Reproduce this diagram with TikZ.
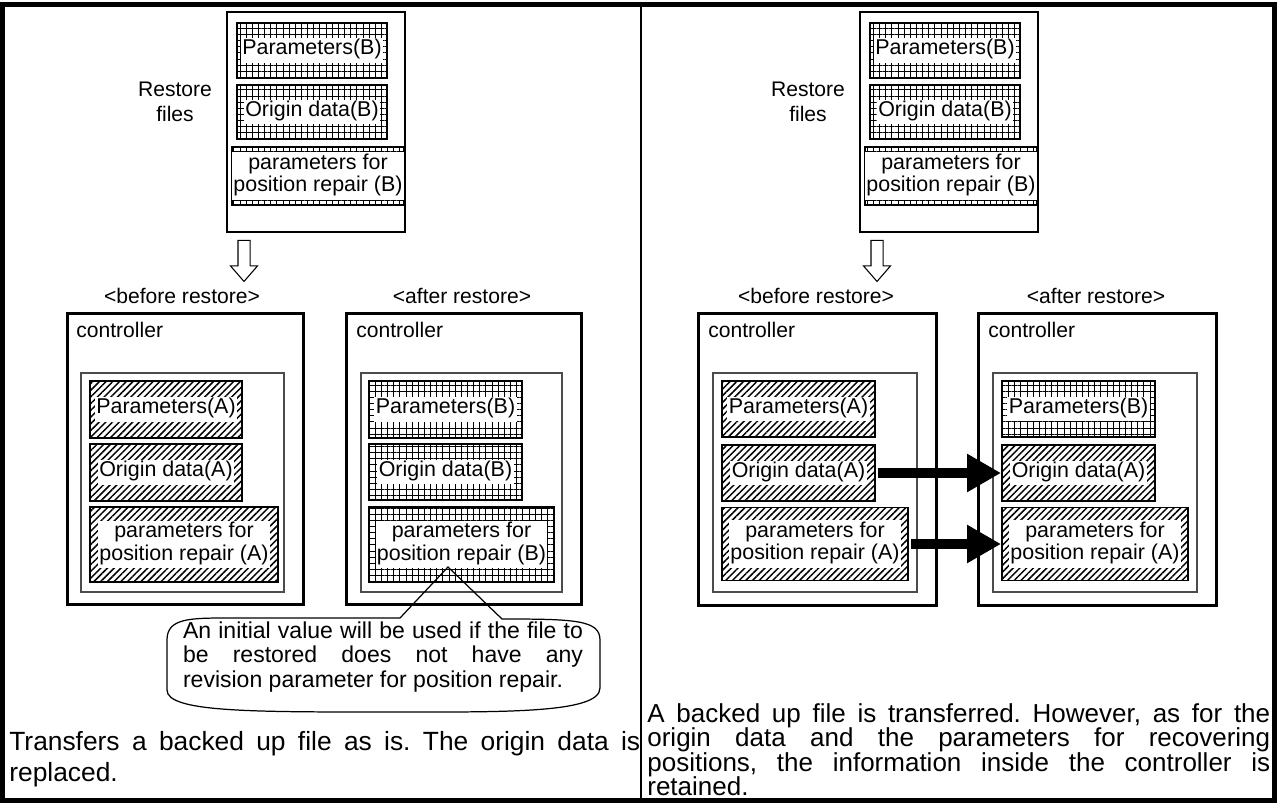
\documentclass[tikz,border=0pt]{standalone}
\usepackage{fontspec}
\setmainfont{Liberation Sans}
\usetikzlibrary{arrows.meta,positioning,patterns.meta,shapes.arrows}
\frenchspacing

% white patch behind the text of a patterned box
\newcommand{\wlab}[1]{{\setlength{\fboxsep}{0.8pt}\colorbox{white}{\begin{tabular}{@{}c@{}}#1\end{tabular}}}}

\begin{document}
\begin{tikzpicture}[
  x=0.02cm, y=-0.02cm,
  lab/.style={font=\fontsize{12}{14.2}\selectfont, align=center, inner sep=0pt},
  databox/.style={draw, line width=1.1pt, inner sep=0pt,
                  font=\fontsize{12.2}{12.6}\selectfont},
  hatchbox/.style={databox, pattern={Lines[angle=45,distance=2.7pt,line width=0.85pt]}},
  gridbox/.style={databox, pattern={Hatch[angle=0,distance=3.5pt,line width=0.35pt]}},
  ctrlbox/.style={draw, line width=1.7pt, minimum width=4.76cm, minimum height=5.86cm},
  innerbox/.style={draw=black!70, line width=0.7pt, minimum width=4.06cm, minimum height=4.38cm},
  restbox/.style={draw, line width=0.8pt, minimum width=3.56cm, minimum height=4.4cm},
  dnarrow/.style={single arrow, draw, line width=0.6pt, shape border rotate=270,
                  inner sep=0.11cm, minimum height=0.82cm,
                  single arrow head extend=0.15cm, single arrow tip angle=82},
  bigarr/.style={-{Triangle[length=0.68cm,width=0.72cm]}, line width=0.2cm, shorten <=1pt},
  note/.style={font=\fontsize{13.1}{14.2}\selectfont, align=left, inner sep=0pt},
  summary/.style={align=left, inner sep=0pt}
]
\useasboundingbox (0,0) rectangle (1277,803);

% table frame
\draw[line width=2.6pt] (2.5,4.5) rectangle (1274.5,800.5);
\draw[line width=1.1pt] (641,4.5) -- (641,800.5);

%% left half: restore replaces everything
\node[restbox] (restL) at (316,122) {};
\node[gridbox, minimum width=3.0cm, minimum height=1.1cm] (parB1) at (312,50.5) {\wlab{Parameters(B)}};
\node[gridbox, minimum width=3.0cm, minimum height=1.08cm] (orgB1) at (312,112) {\wlab{Origin data(B)}};
\node[gridbox, minimum width=3.24cm, minimum height=1.16cm] (repB1) at (318,176) {\wlab{parameters for\\position repair (B)}};
\node[lab] (filesL) at (175,102) {Restore\\files};
\node[dnarrow] (dnL) at (244,257.5) {};

\node[lab] (befL) at (182,296) {<before restore>};
\node[lab] (aftL) at (462,296) {<after restore>};

\node[ctrlbox, minimum width=4.74cm, minimum height=5.84cm] (ctlL1) at (185.5,459) {};
\node[lab, anchor=west] at (76,330) {controller};
\node[innerbox] (inL1) at (182.5,482.5) {};
\node[hatchbox, minimum width=3.04cm, minimum height=1.14cm] (parA1) at (166,409.5) {\wlab{Parameters(A)}};
\node[hatchbox, minimum width=3.04cm, minimum height=1.14cm] (orgA1) at (166,472.5) {\wlab{Origin data(A)}};
\node[hatchbox, minimum width=3.76cm, minimum height=1.5cm] (repA1) at (184,544.5) {\wlab{parameters for\\position repair (A)}};

\node[ctrlbox, minimum width=4.72cm, minimum height=5.84cm] (ctlL2) at (464,459) {};
\node[lab, anchor=west] at (356,330) {controller};
\node[innerbox, minimum width=4.02cm] (inL2) at (461.5,482.5) {};
\node[gridbox, minimum width=3.06cm, minimum height=1.14cm] (parB2) at (445.5,409.5) {\wlab{Parameters(B)}};
\node[gridbox, minimum width=3.06cm, minimum height=1.12cm] (orgB2) at (445.5,472) {\wlab{Origin data(B)}};
\node[gridbox, minimum width=3.7cm, minimum height=1.5cm] (repB2) at (461.5,544.5) {\wlab{parameters for\\position repair (B)}};

% speech bubble
\coordinate (tipL) at (448,567);
\draw[line width=0.7pt] (400,618) -- (tipL) -- (502,619)
  .. controls (575,619) and (600,620) .. (600,640) -- (600,688)
  .. controls (600,714) and (500,712) .. (382,712)
  .. controls (250,712) and (167,712) .. (167,690) -- (167,640)
  .. controls (167,618) and (190,618) .. (230,618) -- cycle;
\node[note, anchor=north] (noteL) at (383,621) {%
  \makebox[8cm][s]{An initial value will be used if the file to}\\
  \makebox[8cm][s]{be restored does not have any}\\
  revision parameter for position repair.};

\node[summary, font=\fontsize{15}{17.6}\selectfont, anchor=north west] (sumL) at (9,731) {%
  \makebox[12.62cm][s]{Transfers a backed up file as is. The origin data is}\\
  replaced.};

%% right half: origin data and repair parameters are kept
\node[restbox] (restR) at (949,122) {};
\node[gridbox, minimum width=3.0cm, minimum height=1.1cm] (parB3) at (945,50.5) {\wlab{Parameters(B)}};
\node[gridbox, minimum width=3.0cm, minimum height=1.08cm] (orgB3) at (945,112) {\wlab{Origin data(B)}};
\node[gridbox, minimum width=3.24cm, minimum height=1.16cm] (repB3) at (951,176) {\wlab{parameters for\\position repair (B)}};
\node[lab] (filesR) at (808,102) {Restore\\files};
\node[dnarrow] (dnR) at (877,257.5) {};

\node[lab] (befR) at (816,296) {<before restore>};
\node[lab] (aftR) at (1096,296) {<after restore>};

\node[ctrlbox] (ctlR1) at (817.5,459.5) {};
\node[lab, anchor=west] at (708,330) {controller};
\node[innerbox, minimum width=4.08cm] (inR1) at (815,482.5) {};
\node[hatchbox, minimum width=3.06cm, minimum height=1.12cm] (parA3) at (798.5,409) {\wlab{Parameters(A)}};
\node[hatchbox, minimum width=3.06cm, minimum height=1.12cm] (orgA3) at (798.5,473) {\wlab{Origin data(A)}};
\node[hatchbox, minimum width=3.72cm, minimum height=1.46cm] (repA3) at (815,544) {\wlab{parameters for\\position repair (A)}};

\node[ctrlbox] (ctlR2) at (1097.5,459.5) {};
\node[lab, anchor=west] at (988,330) {controller};
\node[innerbox, minimum width=4.08cm] (inR2) at (1095,482.5) {};
\node[gridbox, minimum width=3.06cm, minimum height=1.12cm] (parB4) at (1078.5,409) {\wlab{Parameters(B)}};
\node[hatchbox, minimum width=3.06cm, minimum height=1.12cm] (orgA4) at (1078.5,473) {\wlab{Origin data(A)}};
\node[hatchbox, minimum width=3.72cm, minimum height=1.46cm] (repA4) at (1095,544) {\wlab{parameters for\\position repair (A)}};

\draw[bigarr] (orgA3.east) -- (orgA4.west);
\draw[bigarr] (repA3.east) -- (repA4.west);

\node[summary, font={\fontsize{14.8}{13.9}\selectfont\lineskiplimit=-20pt\lineskip=0pt}, anchor=north west] (sumR) at (647,703) {%
  \makebox[12.46cm][s]{A backed up file is transferred. However, as for the}\\
  \makebox[12.46cm][s]{origin data and the parameters for recovering}\\
  \makebox[12.46cm][s]{positions, the information inside the controller is}\\
  retained.};
\end{tikzpicture}
\end{document}
